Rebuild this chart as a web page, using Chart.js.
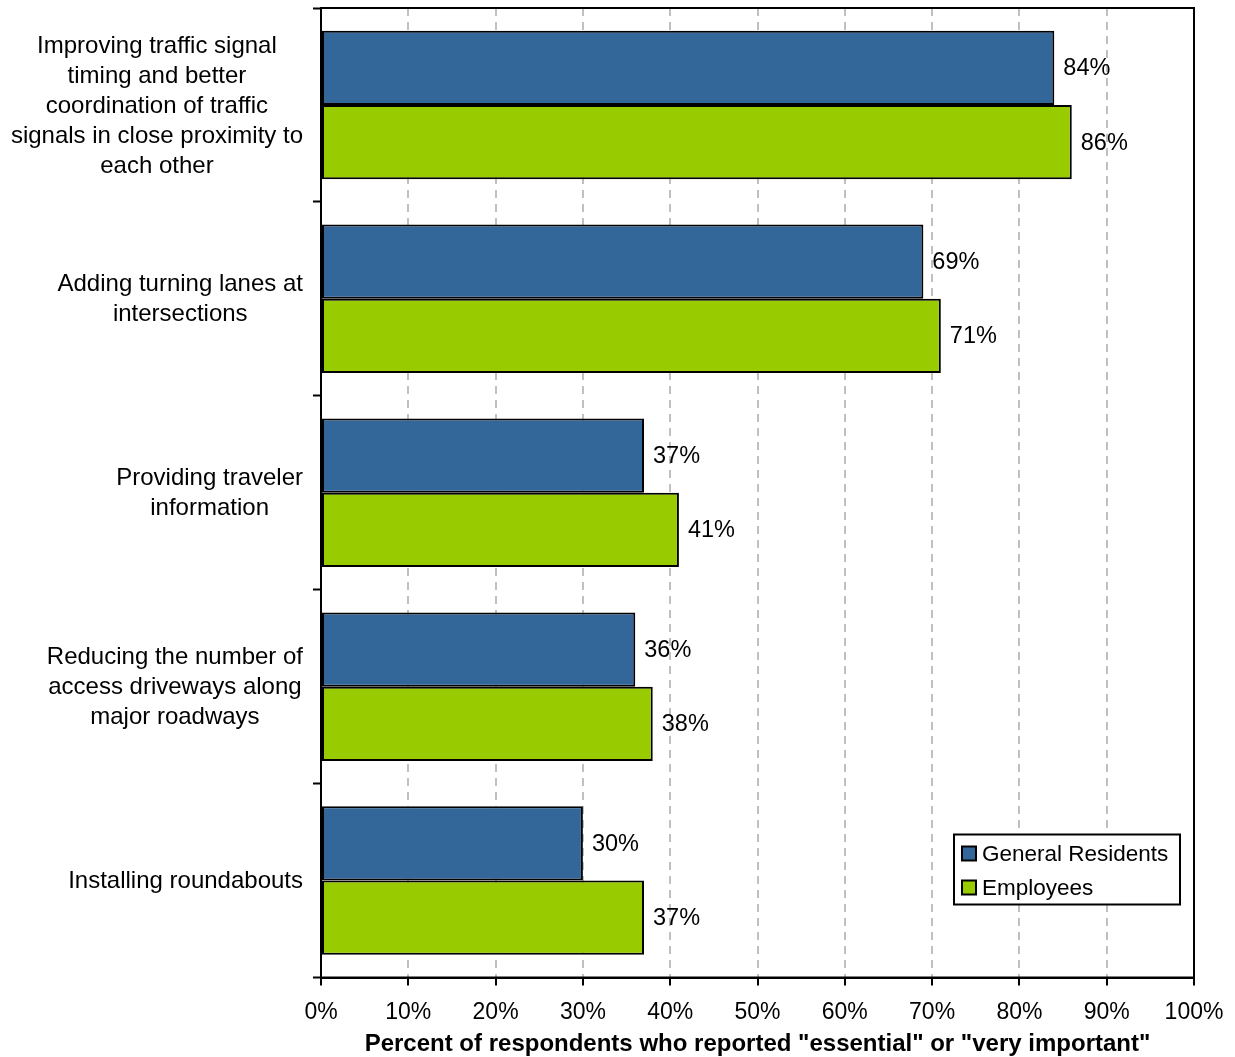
<!DOCTYPE html>
<html>
<head>
<meta charset="utf-8">
<script src="https://cdn.jsdelivr.net/npm/chart.js@4"></script>
<style>
  html, body { margin: 0; padding: 0; background: #fff; }
  #wrap { width: 1235px; height: 1057px; }
</style>
</head>
<body>
<div id="wrap"><canvas id="chart"></canvas></div>
<script>
const categories = [
    ['Improving traffic signal', 'timing and better', 'coordination of traffic', 'signals in close proximity to', 'each other'],
    ['Adding turning lanes at', 'intersections'],
    ['Providing traveler', 'information'],
    ['Reducing the number of', 'access driveways along', 'major roadways'],
    ['Installing roundabouts']
];
const generalResidents = [84, 69, 37, 36, 30];
const employees = [86, 71, 41, 38, 37];
const seriesNames = ['General Residents', 'Employees'];
const axisTitle = 'Percent of respondents who reported "essential" or "very important"';

const FONT = 'Arial, "Liberation Sans", sans-serif';
Chart.defaults.font.family = FONT;
Chart.defaults.color = '#000';

// category labels: centered lines, block right-aligned against the axis
const categoryLabels = {
    id: 'categoryLabels',
    afterDraw(chart) {
        const { ctx, chartArea, scales: { y } } = chart;
        ctx.save();
        ctx.font = '24px ' + FONT;
        ctx.fillStyle = '#000';
        ctx.textAlign = 'center';
        ctx.textBaseline = 'middle';
        const lh = 30;
        categories.forEach((lines, i) => {
            const maxW = Math.max(...lines.map(l => ctx.measureText(l).width));
            const cx = chartArea.left - 18 - maxW / 2;
            const cy = y.getPixelForValue(i) + 1;
            lines.forEach((l, j) => {
                ctx.fillText(l, cx, cy + (j - (lines.length - 1) / 2) * lh);
            });
        });
        ctx.restore();
    }
};

const valueLabels = {
    id: 'valueLabels',
    afterDatasetsDraw(chart) {
        const { ctx } = chart;
        ctx.save();
        ctx.font = '23.5px ' + FONT;
        ctx.fillStyle = '#000';
        ctx.textAlign = 'left';
        ctx.textBaseline = 'middle';
        chart.data.datasets.forEach((ds, di) => {
            chart.getDatasetMeta(di).data.forEach((bar, i) => {
                ctx.fillText(ds.data[i] + '%', bar.x + 9, bar.y + 1);
            });
        });
        ctx.restore();
    }
};

const frameAndLegend = {
    id: 'frameAndLegend',
    afterDraw(chart) {
        const { ctx, chartArea: a } = chart;
        ctx.save();
        ctx.strokeStyle = '#000';
        ctx.lineWidth = 2;
        ctx.strokeRect(a.left, a.top, a.right - a.left, a.bottom - a.top);

        // legend box in lower right of plot area
        const w = 226, h = 70;
        const lx = a.right - 14 - w, ly = a.bottom - 73 - h;
        ctx.fillStyle = '#fff';
        ctx.fillRect(lx, ly, w, h);
        ctx.strokeRect(lx, ly, w, h);
        ctx.font = '22.5px ' + FONT;
        ctx.textAlign = 'left';
        ctx.textBaseline = 'middle';
        chart.data.datasets.forEach((ds, i) => {
            const cy = ly + 19 + i * 34;
            ctx.fillStyle = ds.backgroundColor;
            ctx.fillRect(lx + 8, cy - 7, 14, 14);
            ctx.strokeRect(lx + 8, cy - 7, 14, 14);
            ctx.fillStyle = '#000';
            ctx.fillText(ds.label, lx + 28, cy + 1);
        });
        ctx.restore();
    }
};

new Chart(document.getElementById('chart'), {
    type: 'bar',
    data: {
        labels: categories.map(c => c.join(' ')),
        datasets: [
            { label: seriesNames[0], data: generalResidents, backgroundColor: '#336699', borderColor: '#000', borderWidth: 2, borderSkipped: false },
            { label: seriesNames[1], data: employees, backgroundColor: '#99CC00', borderColor: '#000', borderWidth: 2, borderSkipped: false }
        ]
    },
    options: {
        indexAxis: 'y',
        responsive: true,
        maintainAspectRatio: false,
        animation: false,
        categoryPercentage: 0.766,
        barPercentage: 1.0,
        layout: { padding: { left: 313, top: 8, right: 41, bottom: 1 } },
        plugins: {
            legend: { display: false },
            tooltip: { enabled: false }
        },
        scales: {
            x: {
                min: 0,
                max: 100,
                ticks: {
                    stepSize: 10,
                    callback: v => v + '%',
                    font: { size: 23, lineHeight: 1.5 },
                    color: '#000',
                    padding: 9.5,
                    maxRotation: 0
                },
                grid: {
                    color: '#c0c0c0',
                    lineWidth: 2,
                    tickColor: '#000',
                    tickWidth: 2,
                    tickLength: 8
                },
                border: { color: '#000', width: 2, dash: [8, 6] },
                title: {
                    display: true,
                    text: axisTitle,
                    font: { size: 24, weight: 'bold', lineHeight: 1.0 },
                    color: '#000',
                    padding: { top: -7, bottom: 0 }
                }
            },
            y: {
                ticks: { display: false },
                grid: {
                    drawOnChartArea: false,
                    tickColor: '#000',
                    tickWidth: 2,
                    tickLength: 8
                },
                border: { color: '#000', width: 2 }
            }
        }
    },
    plugins: [categoryLabels, valueLabels, frameAndLegend]
});
</script>
</body>
</html>
